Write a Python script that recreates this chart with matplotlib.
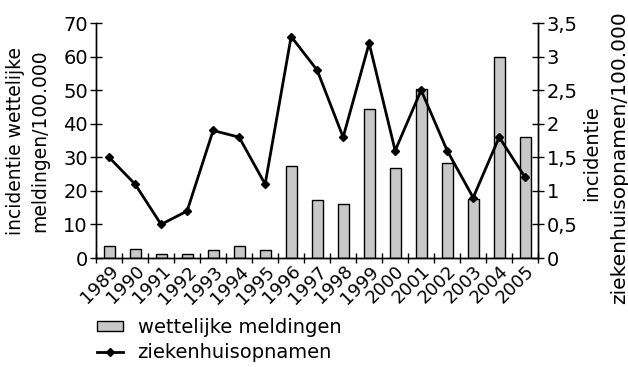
import matplotlib.pyplot as plt
import numpy as np

plt.rcParams['font.family'] = ['DejaVu Sans']

years = ['1989', '1990', '1991', '1992', '1993', '1994', '1995', '1996', '1997',
         '1998', '1999', '2000', '2001', '2002', '2003', '2004', '2005']
meldingen = [3.5, 2.8, 1.2, 1.1, 2.3, 3.5, 2.4, 27.5, 17.2, 16.0, 44.5, 26.8,
             50.4, 28.4, 17.6, 59.8, 36.2]
opnamen = [1.5, 1.1, 0.5, 0.7, 1.9, 1.8, 1.1, 3.3, 2.8, 1.8, 3.2, 1.6, 2.5,
           1.6, 0.9, 1.8, 1.2]
right_ticks = [0, 0.5, 1, 1.5, 2, 2.5, 3, 3.5]
right_labels = ['0', '0,5', '1', '1,5', '2', '2,5', '3', '3,5']

x = np.arange(len(years))

fig = plt.figure(figsize=(6.28, 3.67), dpi=100)
ax = fig.add_axes([0.153, 0.297, 0.704, 0.64])
ax2 = ax.twinx()

bars = ax.bar(x, meldingen, width=0.42, color='#c8c8c8', edgecolor='black',
              linewidth=1, label='wettelijke meldingen')
line, = ax2.plot(x, opnamen, color='black', lw=2, marker='D', markersize=4.5,
                 label='ziekenhuisopnamen')

ax.set_xlim(-0.5, len(years) - 0.5)
ax.set_ylim(0, 70)
ax.set_yticks(range(0, 71, 10))
ax2.set_ylim(0, 3.5)
ax2.set_yticks(right_ticks)
ax2.set_yticklabels(right_labels)

ax.set_xticks(x)
ax.set_xticklabels(years, rotation=45, ha='right', va='top',
                   rotation_mode='anchor', fontsize=13)
ax.set_xticks(np.arange(-0.5, len(years)), minor=True)
ax.tick_params(axis='x', which='major', length=0, pad=3)
ax.tick_params(axis='x', which='minor', direction='inout', length=7, width=1)
ax.tick_params(axis='y', direction='inout', length=8, width=1, labelsize=14, pad=2)
ax2.tick_params(axis='y', direction='inout', length=8, width=1, labelsize=14, pad=2)

for a in (ax, ax2):
    a.spines['top'].set_visible(False)
    for s in ('left', 'right', 'bottom'):
        a.spines[s].set_linewidth(1)

ax.set_ylabel('incidentie wettelijke\nmeldingen/100.000', fontsize=13.5,
              linespacing=1.3, va='center')
ax.yaxis.set_label_coords(-0.155, 0.5)

# right axis title: two separate lines, as in the original
fig.text(592 / 628, 1 - 153 / 367, 'incidentie', rotation=90, fontsize=14,
         ha='center', va='center')
fig.text(620 / 628, 1 - 158 / 367, 'ziekenhuisopnamen/100.000', rotation=90,
         fontsize=14.5, ha='center', va='center')

fig.legend([bars, line], ['wettelijke meldingen', 'ziekenhuisopnamen'],
           loc='upper left', bbox_to_anchor=(0.154, 0.133), frameon=False,
           fontsize=14, handlelength=1.35, handleheight=0.45, handletextpad=0.75,
           labelspacing=0.3, borderpad=0, borderaxespad=0)

fig.savefig('out.png', dpi=100)
